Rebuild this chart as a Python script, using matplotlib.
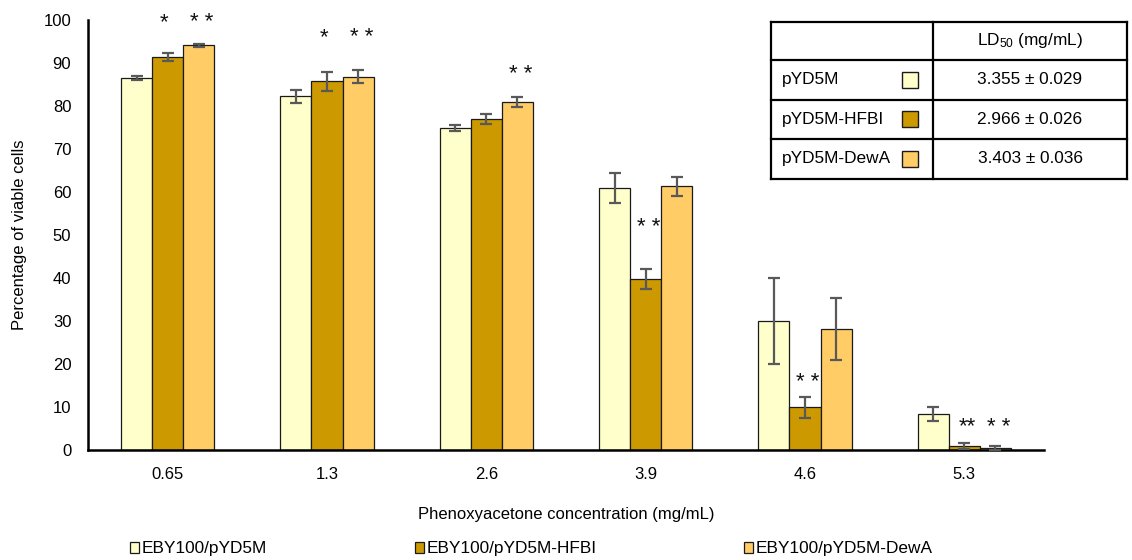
import matplotlib
matplotlib.use("Agg")
import matplotlib.pyplot as plt
import numpy as np
from matplotlib.patches import Rectangle
from matplotlib.lines import Line2D

plt.rcParams['font.family'] = ['Liberation Sans', 'DejaVu Sans']
plt.rcParams['mathtext.fontset'] = 'custom'
plt.rcParams['mathtext.rm'] = 'Liberation Sans'
plt.rcParams['mathtext.it'] = 'Liberation Sans'

categories = ["0.65", "1.3", "2.6", "3.9", "4.6", "5.3"]
series_names = ["EBY100/pYD5M", "EBY100/pYD5M-HFBI", "EBY100/pYD5M-DewA"]
pYD5M = [86.5, 82.3, 74.9, 60.9, 30.1, 8.3]
pYD5M_err = [0.4, 1.5, 0.6, 3.5, 10.0, 1.6]
HFBI = [91.4, 85.8, 77.0, 39.7, 9.9, 1.0]
HFBI_err = [0.9, 2.2, 1.2, 2.3, 2.5, 0.7]
DewA = [94.1, 86.8, 81.0, 61.3, 28.2, 0.4]
DewA_err = [0.3, 1.5, 1.2, 2.3, 7.2, 0.5]
colors = ["#FFFFCC", "#CC9900", "#FFCC66"]

# significance marks: (category index, series index, label, y)
marks = [(0, 1, "*", 97.0), (0, 2, "* *", 97.0),
         (1, 1, "*", 93.5), (1, 2, "* *", 93.5),
         (2, 2, "* *", 84.8),
         (3, 1, "* *", 49.3),
         (4, 1, "* *", 13.3),
         (5, 1, "**", 2.9), (5, 2, "* *", 2.9)]

table_rows = ["pYD5M", "pYD5M-HFBI", "pYD5M-DewA"]
ld50 = ["3.355 ± 0.029", "2.966 ± 0.026", "3.403 ± 0.036"]

W, H = 1132, 560
fig = plt.figure(figsize=(W / 100, H / 100), dpi=100)
ax = fig.add_axes([88 / W, 1 - 450 / H, (1044 - 88) / W, (450 - 20) / H])

x = np.arange(len(categories))
bw = 0.195
data = [(pYD5M, pYD5M_err), (HFBI, HFBI_err), (DewA, DewA_err)]
for k, (vals, errs) in enumerate(data):
    ax.bar(x + (k - 1) * bw, vals, bw, color=colors[k], edgecolor="#1a1a1a",
           linewidth=0.9, label=series_names[k], zorder=2)
    ax.errorbar(x + (k - 1) * bw, vals, yerr=errs, fmt="none", ecolor="#595959",
                elinewidth=1.6, capsize=4.5, capthick=1.6, zorder=3)

for ci, si, lab, yv in marks:
    ax.text(x[ci] + (si - 1) * bw + (0.02 if len(lab) > 1 else -0.02), yv, lab,
            ha="center", va="bottom", fontsize=16, color="#111111")

ax.set_xlim(-0.5, len(categories) - 0.5)
ax.set_ylim(0, 100)
ax.set_yticks(np.arange(0, 101, 10))
ax.set_xticks(x)
ax.set_xticklabels(categories)
ax.tick_params(axis="both", length=0, labelsize=12)
ax.tick_params(axis="y", pad=12)
ax.tick_params(axis="x", pad=12)
for s in ["top", "right"]:
    ax.spines[s].set_visible(False)
for s in ["left", "bottom"]:
    ax.spines[s].set_linewidth(1.8)
    ax.spines[s].set_color("black")
ax.set_xlabel("Phenoxyacetone concentration (mg/mL)", fontsize=12, labelpad=18)
ax.set_ylabel("Percentage of viable cells", fontsize=12, labelpad=12)

# legend at bottom
handles = [Rectangle((0, 0), 1, 1, facecolor=c, edgecolor="#1a1a1a", linewidth=0.9) for c in colors]
fig.legend(handles, series_names, loc="center left", bbox_to_anchor=(130 / W, 1 - 549 / H),
           ncol=3, frameon=False, fontsize=12.4, handlelength=0.55, handleheight=0.55,
           handletextpad=0.15, columnspacing=8.55, borderpad=0, borderaxespad=0)

# LD50 table drawn in figure pixel coordinates
def fx(px):
    return px / W

def fy(py):
    return 1 - py / H

tl, tr, tdiv = 771, 1127, 933
rows_y = [21.5, 60, 99.5, 139, 178.5]
lw = 1.6
for yy in rows_y:
    fig.add_artist(Line2D([fx(tl), fx(tr)], [fy(yy), fy(yy)], color="black", lw=lw))
for xx in [tl, tdiv, tr]:
    fig.add_artist(Line2D([fx(xx), fx(xx)], [fy(rows_y[0]), fy(rows_y[-1])], color="black", lw=lw))
fig.text(fx((tdiv + tr) / 2), fy((rows_y[0] + rows_y[1]) / 2), r"LD$_{50}$ (mg/mL)",
         ha="center", va="center", fontsize=12.4)
for r in range(3):
    yc = (rows_y[r + 1] + rows_y[r + 2]) / 2
    fig.text(fx(782), fy(yc), table_rows[r], ha="left", va="center", fontsize=12.4)
    fig.text(fx((tdiv + tr) / 2), fy(yc), ld50[r], ha="center", va="center", fontsize=12.4)
    fig.add_artist(Rectangle((fx(902), fy(yc + 8)), 16 / W, 16 / H, transform=fig.transFigure,
                             facecolor=colors[r], edgecolor="#1a1a1a", linewidth=1.0))

fig.savefig("out.png", dpi=100, facecolor="white")
